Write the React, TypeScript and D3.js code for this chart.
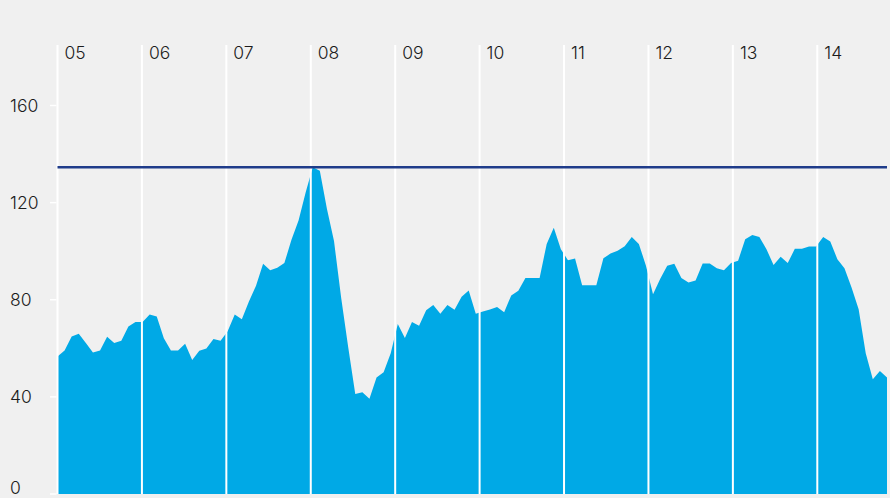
import React from "react";
import * as d3 from "d3";

// Monthly index values, Jan 2005 – Oct 2014
const values: number[] = [
  56.6, 59.1, 64.9, 66.0, 62.2, 58.3, 59.1, 64.8, 62.2, 63.1, 69.0, 70.8,
  70.8, 73.9, 73.1, 64.1, 59.1, 59.1, 61.9, 55.2, 59.0, 59.9, 63.8, 63.1,
  67.0, 73.9, 72.0, 79.3, 85.8, 94.8, 92.1, 93.2, 95.1, 104.7, 112.6, 124.2,
  134.6, 133.1, 117.5, 104.2, 81.0, 60.5, 41.2, 41.9, 39.2, 48.0, 50.1, 58.0,
  70.0, 64.2, 70.8, 69.3, 75.7, 77.8, 74.2, 77.8, 75.9, 81.2, 83.8, 74.2,
  75.2, 76.0, 77.0, 74.9, 81.8, 83.7, 89.0, 89.0, 89.0, 103.0, 109.7, 100.8,
  96.3, 97.0, 86.0, 86.0, 86.0, 97.1, 99.0, 100.2, 102.0, 105.8, 103.0, 94.0,
  82.3, 88.5, 94.0, 94.8, 89.0, 87.1, 87.9, 94.9, 94.9, 93.0, 92.2, 95.1,
  96.1, 104.9, 106.7, 105.8, 100.8, 94.3, 97.7, 95.1, 101.0, 101.0, 101.9, 101.9,
  105.8, 104.0, 96.7, 93.0, 85.0, 76.1, 58.0, 47.3, 50.7, 48.0,
];

const years: number[] = [2005, 2006, 2007, 2008, 2009, 2010, 2011, 2012, 2013, 2014];
const yearLabels: string[] = ["05", "06", "07", "08", "09", "10", "11", "12", "13", "14"];
const yTicks: number[] = [0, 40, 80, 120, 160];
const referenceLevel = 134.6;

const W = 890;
const H = 498;
const left = 57.5;
const right = 887;
const yBottom = 494;
const yTop = 105.5;

export default function App() {
  const xIdx = d3.scaleLinear().domain([0, values.length - 1]).range([left, right]);
  const xYear = d3.scaleLinear().domain([2005, 2014]).range([left, 817.3]);
  const y = d3.scaleLinear().domain([0, 160]).range([yBottom, yTop]);

  const area = d3
    .area<number>()
    .x((_, i) => xIdx(i))
    .y0(y(0))
    .y1((d) => y(d))
    .curve(d3.curveLinear);

  const font = "Inter, 'Open Sans', 'DejaVu Sans', sans-serif";

  return (
    <svg
      width={W}
      height={H}
      style={{ position: "absolute", left: 0, top: 0, display: "block" }}
    >
      <rect x={0} y={0} width={W} height={H} fill="#f0f0f0" />
      <path d={area(values) || ""} fill="#00a9e6" />
      {years.map((yr, i) => (
        <g key={yr}>
          <line
            x1={xYear(yr)}
            x2={xYear(yr)}
            y1={45}
            y2={yBottom}
            stroke="#ffffff"
            strokeWidth={2}
          />
          <text
            x={xYear(yr) + 7}
            y={52.5}
            dominantBaseline="central"
            fontFamily={font}
            fontSize={17.5}
            fontWeight={300}
            fill="#1c1c1c"
          >
            {yearLabels[i]}
          </text>
        </g>
      ))}
      {yTicks.map((t) => (
        <g key={t}>
          <line x1={50} x2={56.5} y1={y(t)} y2={y(t)} stroke="#ffffff" strokeWidth={1.5} />
          <text
            x={10}
            y={t === 0 ? y(t) - 6.5 : y(t)}
            dominantBaseline="central"
            fontFamily={font}
            fontSize={17.5}
            fontWeight={300}
            fill="#1c1c1c"
          >
            {t}
          </text>
        </g>
      ))}
      <line
        x1={left}
        x2={right}
        y1={y(referenceLevel)}
        y2={y(referenceLevel)}
        stroke="#1f3c8a"
        strokeWidth={2.5}
      />
    </svg>
  );
}
